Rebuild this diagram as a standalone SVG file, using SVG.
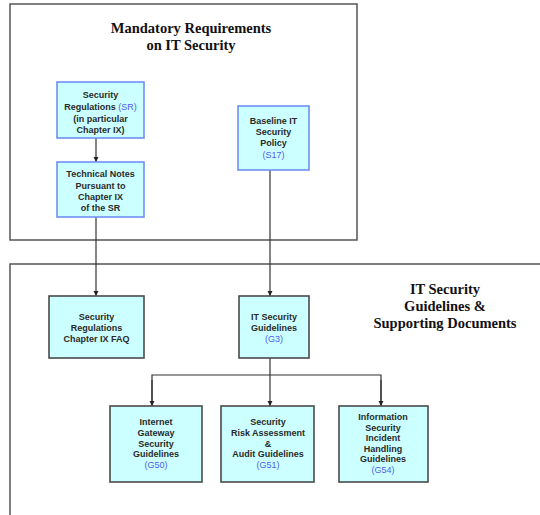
<svg xmlns="http://www.w3.org/2000/svg" width="540" height="515" viewBox="0 0 540 515">
<defs>
<style>
.frame{fill:none;stroke:#555;stroke-width:1.5}
.top{fill:#ccffff;stroke:#6f8ff5;stroke-width:1.6}
.bot{fill:#ccffff;stroke:#4a4a4a;stroke-width:1.6}
.t{font-family:"Liberation Sans",Arial,sans-serif;font-size:9px;font-weight:bold;fill:#2a2a2a;text-anchor:middle}
.b{fill:#4f5cf0;font-weight:normal}
.title{font-family:"Liberation Serif","Times New Roman",serif;font-size:14.5px;font-weight:bold;fill:#111;text-anchor:middle}
.c{fill:none;stroke:#333;stroke-width:1.2}
</style>
<marker id="ah" markerWidth="6" markerHeight="6" refX="5" refY="3" orient="auto" markerUnits="userSpaceOnUse">
<path d="M0,0.5 L5,3 L0,5.5 Z" fill="#222"/>
</marker>
</defs>
<rect width="540" height="515" fill="#fff"/>
<g id="frame-mandatory">
<rect class="frame" x="10" y="4" width="347" height="236"/>
<text class="title" x="191" y="33">Mandatory Requirements</text>
<text class="title" x="191" y="50">on IT Security</text>
</g>
<g id="frame-guidelines">
<path class="frame" d="M10,515 V264 H541"/>
<text class="title" x="445" y="294">IT Security</text>
<text class="title" x="445" y="311">Guidelines &amp;</text>
<text class="title" x="445" y="328">Supporting Documents</text>
</g>
<g id="connectors">
<line class="c" x1="96" y1="138" x2="96" y2="162" marker-end="url(#ah)"/>
<line class="c" x1="96" y1="217" x2="96" y2="296" marker-end="url(#ah)"/>
<line class="c" x1="270" y1="170" x2="270" y2="296" marker-end="url(#ah)"/>
<line class="c" x1="270" y1="358" x2="270" y2="406" marker-end="url(#ah)"/>
<path class="c" d="M152,406 V375 H381 V406"/>
<line class="c" x1="152" y1="380" x2="152" y2="406" marker-end="url(#ah)"/>
<line class="c" x1="381" y1="380" x2="381" y2="406" marker-end="url(#ah)"/>
</g>
<g id="node-sr">
<rect class="top" x="57" y="82" width="87" height="56"/>
<text class="t" x="100.5" y="98">Security</text>
<text class="t" x="100.5" y="110">Regulations <tspan class="b">(SR)</tspan></text>
<text class="t" x="100.5" y="121.5">(in particular</text>
<text class="t" x="100.5" y="133">Chapter IX)</text>
</g>
<g id="node-tn">
<rect class="top" x="57" y="162" width="87" height="55"/>
<text class="t" x="100.5" y="177">Technical Notes</text>
<text class="t" x="100.5" y="188.5">Pursuant to</text>
<text class="t" x="100.5" y="200">Chapter IX</text>
<text class="t" x="100.5" y="211">of the SR</text>
</g>
<g id="node-s17">
<rect class="top" x="238" y="106" width="71" height="64"/>
<text class="t" x="273.5" y="124">Baseline IT</text>
<text class="t" x="273.5" y="135">Security</text>
<text class="t" x="273.5" y="146">Policy</text>
<text class="t b" x="273.5" y="157.5">(S17)</text>
</g>
<g id="node-faq">
<rect class="bot" x="49" y="296" width="95" height="62"/>
<text class="t" x="96.5" y="320">Security</text>
<text class="t" x="96.5" y="331">Regulations</text>
<text class="t" x="96.5" y="342">Chapter IX FAQ</text>
</g>
<g id="node-g3">
<rect class="bot" x="239" y="296" width="70" height="62"/>
<text class="t" x="274" y="320">IT Security</text>
<text class="t" x="274" y="331">Guidelines</text>
<text class="t b" x="274" y="342">(G3)</text>
</g>
<g id="node-g50">
<rect class="bot" x="110" y="406" width="92" height="76"/>
<text class="t" x="156" y="425">Internet</text>
<text class="t" x="156" y="436">Gateway</text>
<text class="t" x="156" y="447">Security</text>
<text class="t" x="156" y="457">Guidelines</text>
<text class="t b" x="156" y="468">(G50)</text>
</g>
<g id="node-g51">
<rect class="bot" x="221" y="406" width="93" height="76"/>
<text class="t" x="268" y="425">Security</text>
<text class="t" x="268" y="436">Risk Assessment</text>
<text class="t" x="268" y="447">&amp;</text>
<text class="t" x="268" y="457">Audit Guidelines</text>
<text class="t b" x="268" y="468">(G51)</text>
</g>
<g id="node-g54">
<rect class="bot" x="339" y="406" width="89" height="76"/>
<text class="t" x="383" y="420">Information</text>
<text class="t" x="383" y="430.5">Security</text>
<text class="t" x="383" y="441">Incident</text>
<text class="t" x="383" y="452">Handling</text>
<text class="t" x="383" y="462">Guidelines</text>
<text class="t b" x="383" y="473">(G54)</text>
</g>
</svg>
